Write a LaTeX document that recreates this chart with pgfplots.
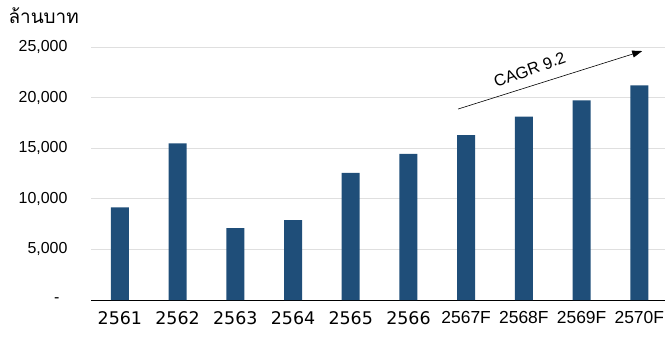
\documentclass[border=0pt]{standalone}
\usepackage{pgfplots}
\pgfplotsset{compat=1.18}
\usepackage{fontspec}
\setmainfont{Liberation Sans}
\newfontfamily\thaifont[Script=Thai]{Loma}
\newfontfamily\dejavu{DejaVu Sans}
\usetikzlibrary{arrows.meta}
\definecolor{barblue}{RGB}{31,78,121}
\begin{document}
\begin{tikzpicture}
\begin{axis}[name=ax, scale only axis, width=574bp, height=253bp,
  xmin=-0.5, xmax=9.445, ymin=0, ymax=25000,
  ybar, bar width=18bp,
  scaled y ticks=false,
  xtick={0,1,2,3,4,5,6,7,8,9},
  xticklabels={{\dejavu 2561},{\dejavu 2562},{\dejavu 2563},{\dejavu 2564},{\dejavu 2565},{\dejavu 2566},{2567F},{2568F},{2569F},{2570F}},
  ytick={0,5000,10000,15000,20000,25000},
  yticklabels={{-\hspace*{8bp}},{5,000},{10,000},{15,000},{20,000},{25,000}},
  ymajorgrids, grid style={draw=gray!25, line width=0.8pt},
  major tick length=0,
  axis y line*=left, axis x line*=bottom,
  y axis line style={draw=none}, x axis line style={black, line width=1pt},
  yticklabel style={font=\fontsize{16}{18}\selectfont, xshift=-20bp},
  xticklabel style={font=\fontsize{17.5}{19}\selectfont, yshift=-8bp},
  clip=false,
]
\addplot[fill=barblue, draw=none] coordinates {(0,9150) (1,15480) (2,7110) (3,7900) (4,12550) (5,14430) (6,16300) (7,18110) (8,19730) (9,21210)};
\draw[-{Triangle[length=10bp,width=7bp]}, line width=0.6pt] (axis cs:5.86,18870) -- (axis cs:9.05,24600);
\node[rotate=20, font=\fontsize{16.5}{18}\selectfont] at (axis cs:7.1,22750) {CAGR 9.2};
\end{axis}
\node[anchor=base west, font=\fontsize{19}{21}\selectfont\thaifont] at ([xshift=-86bp,yshift=23bp]ax.north west) {ล้านบาท};
\pgfresetboundingbox
\path ([xshift=-91bp,yshift=-38bp]ax.south west) rectangle ([yshift=47bp]ax.north east);
\end{tikzpicture}
\end{document}
